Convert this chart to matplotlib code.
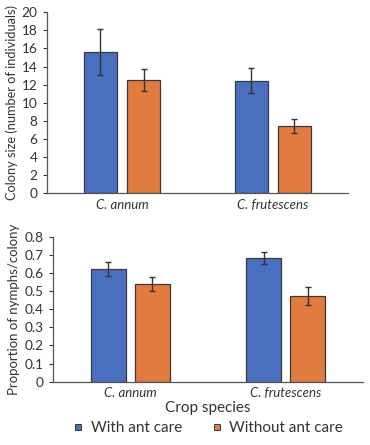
import matplotlib
matplotlib.use("Agg")
import matplotlib.pyplot as plt
import numpy as np
from matplotlib.lines import Line2D

plt.rcParams['font.family'] = ['Lato', 'DejaVu Sans']

crops = ["C. annum", "C. frutescens"]
series = ["With ant care", "Without ant care"]
colony_with = [15.6, 12.45]
colony_with_err = [2.55, 1.4]
colony_without = [12.5, 7.47]
colony_without_err = [1.25, 0.77]
prop_with = [0.622, 0.682]
prop_with_err = [0.038, 0.034]
prop_without = [0.539, 0.473]
prop_without_err = [0.037, 0.048]

blue = "#4A6FBF"
orange = "#E27B3F"
edge = "#3a3a3a"

fig = plt.figure(figsize=(3.7, 4.45), dpi=100)
ax1 = fig.add_axes([0.126, 0.5656, 0.815, 0.4068])
ax2 = fig.add_axes([0.142, 0.1422, 0.840, 0.3258])

x = np.arange(len(crops))

def draw(ax, w, we, wo, woe, bw, gap):
    off = (bw + gap) / 2
    ax.bar(x - off, w, bw, color=blue, edgecolor=edge, linewidth=0.9, zorder=2)
    ax.bar(x + off, wo, bw, color=orange, edgecolor=edge, linewidth=0.9, zorder=2)
    ax.errorbar(x - off, w, yerr=we, fmt='none', ecolor="#333333", elinewidth=1.0, capsize=2.5, capthick=1.0, zorder=3)
    ax.errorbar(x + off, wo, yerr=woe, fmt='none', ecolor="#333333", elinewidth=1.0, capsize=2.5, capthick=1.0, zorder=3)
    ax.set_xlim(-0.5, 1.5)
    ax.set_xticks(x)
    ax.set_xticklabels(crops, fontstyle='italic', fontsize=9.5, color="#333333")
    ax.tick_params(axis='x', length=0, pad=4)
    ax.tick_params(axis='y', labelsize=9.8, colors="#333333", length=3, direction='out', width=0.8)
    for s in ['top', 'right']:
        ax.spines[s].set_visible(False)
    for s in ['left', 'bottom']:
        ax.spines[s].set_color("#555555")
        ax.spines[s].set_linewidth(0.9)

draw(ax1, colony_with, colony_with_err, colony_without, colony_without_err, 0.22, 0.066)
ax1.set_ylim(0, 20)
ax1.set_yticks(np.arange(0, 21, 2))
ax1.set_ylabel("Colony size (number of individuals)", fontsize=9.2, color="#333333", labelpad=3)

draw(ax2, prop_with, prop_with_err, prop_without, prop_without_err, 0.226, 0.058)
ax2.set_ylim(0, 0.8)
ax2.set_yticks(np.arange(0, 0.81, 0.1))
ax2.set_yticklabels(["0"] + [f"{v:.1f}" for v in np.arange(0.1, 0.81, 0.1)])
ax2.set_ylabel("Proportion of nymphs/colony", fontsize=9.5, color="#333333", labelpad=3)
ax2.set_xlabel("Crop species", fontsize=11, color="#333333", labelpad=1)

handles = [Line2D([0], [0], marker='s', linestyle='none', markersize=4.5,
                  markerfacecolor=c, markeredgecolor=edge, markeredgewidth=0.7)
           for c in (blue, orange)]
fig.legend(handles, series, loc='center', bbox_to_anchor=(0.563, 0.038), ncol=2,
           frameon=False, fontsize=11, handlelength=0.6, handletextpad=0.5,
           columnspacing=2.0, labelcolor="#333333")

fig.savefig("out.png", dpi=100)
